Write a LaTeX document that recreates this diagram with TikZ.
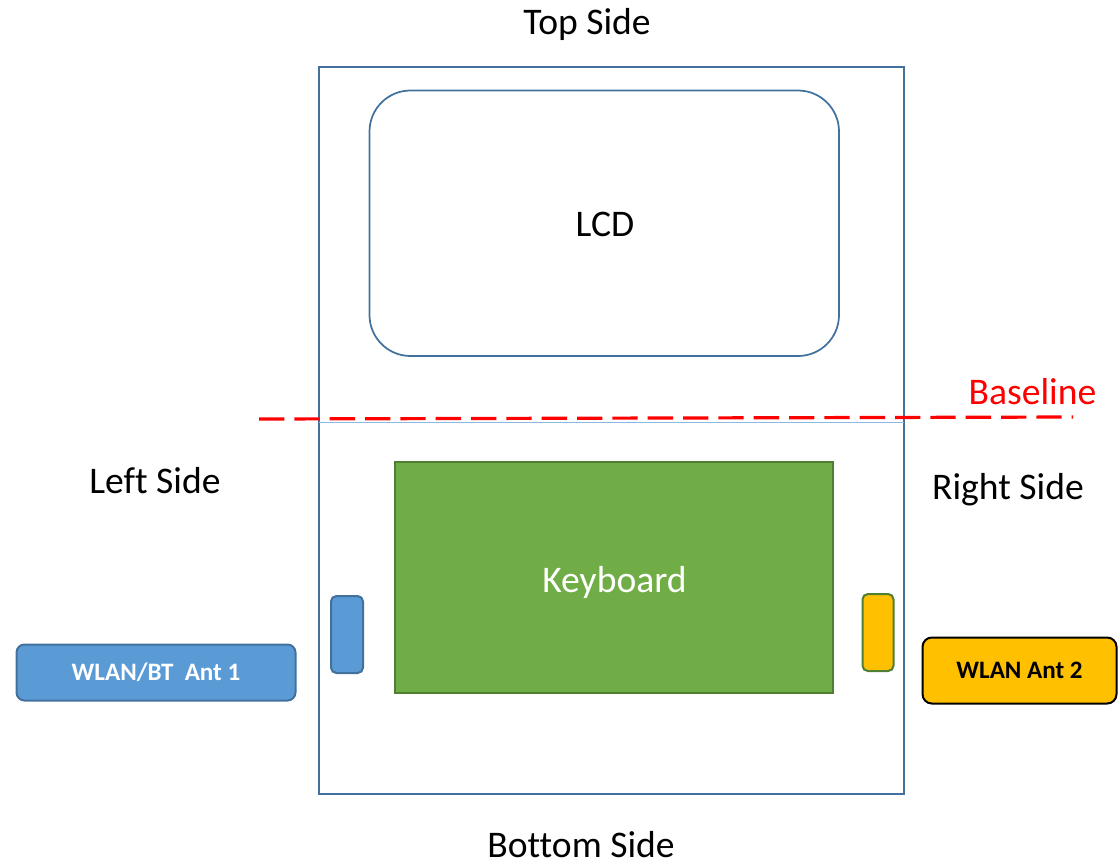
\documentclass[tikz,border=0pt]{standalone}
\usepackage{fontspec}
\setmainfont[Ligatures=NoCommon]{Carlito}
\definecolor{frame}{HTML}{41719C}
\definecolor{bluefill}{HTML}{5B9BD5}
\definecolor{greenfill}{HTML}{70AD47}
\definecolor{greenedge}{HTML}{507E32}
\definecolor{goldfill}{HTML}{FFC000}
\tikzset{x=0.75pt,y=-0.75pt,
 lbl/.style={inner sep=0pt,font=\fontsize{28.2}{32}\selectfont,text=black},
 small/.style={inner sep=0pt,font=\fontsize{18.8}{22}\selectfont\bfseries},
 box/.style={anchor=north west,line width=1.5pt,inner sep=0pt}}
\begin{document}
\begin{tikzpicture}
\useasboundingbox (0,0) rectangle (1119,865);
\node[box,draw=frame,minimum width=585*0.75pt,minimum height=727*0.75pt] (body) at (317.5,66) {};
\draw[rounded corners=41*0.75pt,draw=frame,line width=1.3pt] (369.5,90.5) rectangle (839,356);
\node[lbl] (lcd) at (605,224) {LCD};
\coordinate (dl) at (319,422.5); \coordinate (dr) at (904,422.5);
\draw[color=bluefill!70,line width=1pt] (dl) -- (dr);
\coordinate (b1) at (259,419); \coordinate (b2) at (1073,417);
\draw[red,line width=2.4pt,dash pattern=on 19pt off 7.5pt] (b1) -- (b2);
\node[lbl,text=red] (base) at (1032.5,392) {Baseline};
\node[box,draw=greenedge,fill=greenfill,minimum width=438*0.75pt,minimum height=231*0.75pt] (kb) at (394,461) {};
\node[lbl,text=white] (kbt) at (614.5,582) {Keyboard};
\node[lbl] (ts) at (587,24) {Top Side};
\node[lbl] (bs) at (581,845) {Bottom Side};
\node[lbl] (ls) at (155,480.5) {Left Side};
\node[lbl] (rs) at (1008,490) {Right Side};
\node[box,draw=frame,fill=bluefill,rounded corners=4pt,minimum width=32*0.75pt,minimum height=77*0.75pt] (a1) at (330,595) {};
\node[box,draw=greenedge,fill=goldfill,rounded corners=4pt,minimum width=31*0.75pt,minimum height=77*0.75pt] (a2) at (861.5,593) {};
\node[box,draw=frame,fill=bluefill,rounded corners=6pt,minimum width=279*0.75pt,minimum height=56*0.75pt,small,text=white] (w1) at (15.5,643.5) {WLAN/BT\ \ Ant 1};
\node[box,draw=black,fill=goldfill,rounded corners=7pt,minimum width=194*0.75pt,minimum height=66*0.75pt,small,text=black] (w2) at (921.5,636.5) {\raisebox{-0.6pt}{WLAN Ant 2}};
\end{tikzpicture}
\end{document}
